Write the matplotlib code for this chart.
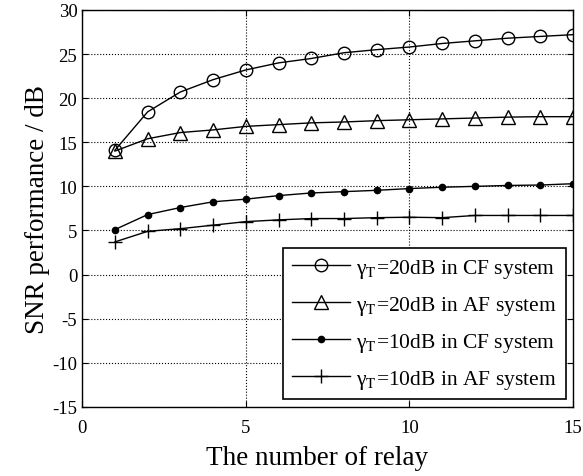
import matplotlib
matplotlib.use('Agg')
import matplotlib.pyplot as plt

# Number of relays and SNR curves (dB)
relays = list(range(1, 16))
cf_20 = [14.1, 18.45, 20.7, 22.1, 23.2, 24.0, 24.5, 25.15, 25.5, 25.8, 26.2, 26.5, 26.8, 27.0, 27.2]
af_20 = [14.0, 15.4, 16.1, 16.4, 16.8, 17.0, 17.2, 17.3, 17.45, 17.55, 17.65, 17.75, 17.85, 17.9, 17.9]
cf_10 = [5.1, 6.8, 7.6, 8.25, 8.55, 8.95, 9.25, 9.4, 9.55, 9.75, 9.9, 10.0, 10.1, 10.15, 10.3]
af_10 = [3.7, 4.9, 5.2, 5.6, 6.0, 6.2, 6.35, 6.35, 6.45, 6.5, 6.45, 6.7, 6.7, 6.7, 6.7]

labels = ['γ$_\\mathrm{T}$=20dB in CF system',
          'γ$_\\mathrm{T}$=20dB in AF system',
          'γ$_\\mathrm{T}$=10dB in CF system',
          'γ$_\\mathrm{T}$=10dB in AF system']

plt.rcParams['font.family'] = ['Liberation Serif', 'DejaVu Serif']
plt.rcParams['mathtext.fontset'] = 'stix'
plt.rcParams['axes.unicode_minus'] = False

fig = plt.figure(figsize=(5.83, 4.77), dpi=100)
ax = fig.add_axes([0.141, 0.145, 0.842, 0.832])

ax.plot(relays, cf_20, 'k-', marker='o', markersize=9, markerfacecolor='none', lw=1.0, label=labels[0])
ax.plot(relays, af_20, 'k-', marker='^', markersize=10.5, markerfacecolor='none', lw=1.0, label=labels[1])
ax.plot(relays, cf_10, 'k-', marker='o', markersize=4.5, lw=1.0, label=labels[2])
ax.plot(relays, af_10, 'k-', marker='+', markersize=10, lw=1.0, label=labels[3])

ax.set_xlim(0, 15)
ax.set_ylim(-15, 30)
ax.set_xticks([0, 5, 10, 15])
ax.set_yticks(range(-15, 31, 5))
ax.grid(True, color='k', linestyle=':', linewidth=0.8)
ax.tick_params(direction='in', top=True, right=True, labelsize=13.5, length=4)
ax.tick_params(axis='x', pad=9)
for s in ax.spines.values():
    s.set_linewidth(1.0)

ax.set_xlabel('The number of relay', fontsize=19.5, labelpad=7)
ax.set_ylabel('SNR performance / dB', fontsize=19.5, labelpad=2)
ax.xaxis.set_label_coords(0.478, -0.095)

leg = ax.legend(loc='lower right', fontsize=15.5, fancybox=False, edgecolor='k',
                framealpha=1, borderaxespad=0.35, labelspacing=0.65,
                handlelength=2.7, handletextpad=0.3)
leg.get_frame().set_linewidth(1.2)

fig.savefig('out.png', dpi=100)
